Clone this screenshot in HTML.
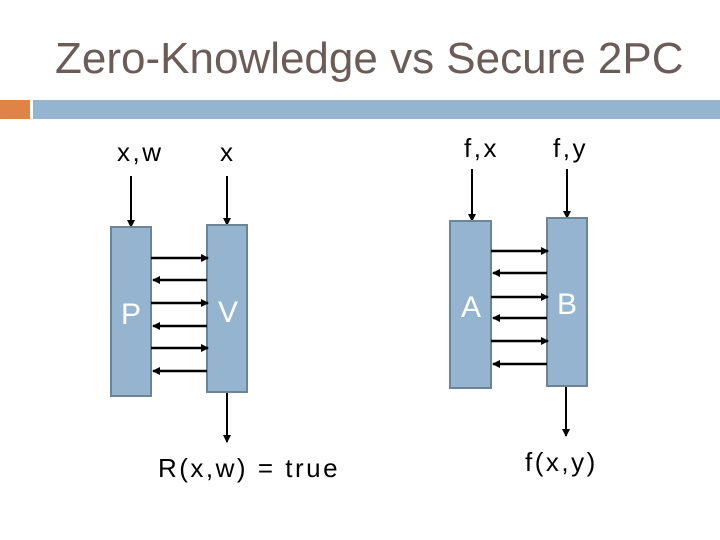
<!DOCTYPE html>
<html><head><meta charset="utf-8"><style>
html,body{margin:0;padding:0;background:#fff;}
svg{display:block;font-family:"Liberation Sans",sans-serif;}
</style></head><body>
<svg width="720" height="540" viewBox="0 0 720 540">
<defs>
<marker id="ah" markerWidth="8" markerHeight="8" refX="7" refY="4" orient="auto" markerUnits="userSpaceOnUse">
<path d="M0,0 L8,4 L0,8 Z" fill="#000"/></marker>
</defs>
<text x="55" y="73" font-size="44" fill="#6b5c57">Zero-Knowledge vs Secure 2PC</text>
<rect x="0" y="100" width="30" height="19" fill="#df8446"/>
<rect x="33" y="100" width="687" height="19" fill="#94b4d0"/>
<g font-size="26" fill="#000" letter-spacing="2.5">
<text x="117" y="161">x,w</text>
<text x="220" y="161">x</text>
<text x="464" y="157">f,x</text>
<text x="553" y="157">f,y</text>
<text x="158" y="477">R(x,w) = true</text>
<text x="525" y="471">f(x,y)</text>
</g>
<g stroke="#000" stroke-width="2" marker-end="url(#ah)">
<line x1="131" y1="176" x2="131" y2="227"/>
<line x1="227" y1="176" x2="227" y2="225"/>
<line x1="472" y1="169" x2="472" y2="221"/>
<line x1="567" y1="169" x2="567" y2="218"/>
<line x1="227" y1="393" x2="227" y2="442"/>
<line x1="566" y1="387" x2="566" y2="436"/>
</g>
<g fill="#94b4d0" stroke="#6d8396" stroke-width="2">
<rect x="111" y="227" width="40" height="169"/>
<rect x="207" y="225" width="40" height="167"/>
<rect x="450" y="221" width="41" height="167"/>
<rect x="547" y="218" width="40" height="168"/>
</g>
<g font-size="30" fill="#fff" text-anchor="middle">
<text x="131" y="324">P</text>
<text x="228" y="322">V</text>
<text x="471" y="317">A</text>
<text x="567" y="314">B</text>
</g>
<g stroke="#000" stroke-width="2.5" marker-end="url(#ah)">
<line x1="151" y1="258" x2="208" y2="258"/>
<line x1="207" y1="280" x2="153" y2="280"/>
<line x1="151" y1="303" x2="208" y2="303"/>
<line x1="207" y1="326" x2="153" y2="326"/>
<line x1="151" y1="348" x2="208" y2="348"/>
<line x1="207" y1="371" x2="153" y2="371"/>
<line x1="491" y1="251" x2="548" y2="251"/>
<line x1="547" y1="273" x2="493" y2="273"/>
<line x1="491" y1="297" x2="548" y2="297"/>
<line x1="547" y1="318" x2="493" y2="318"/>
<line x1="491" y1="341" x2="548" y2="341"/>
<line x1="547" y1="364" x2="493" y2="364"/>
</g>
</svg>
</body></html>
